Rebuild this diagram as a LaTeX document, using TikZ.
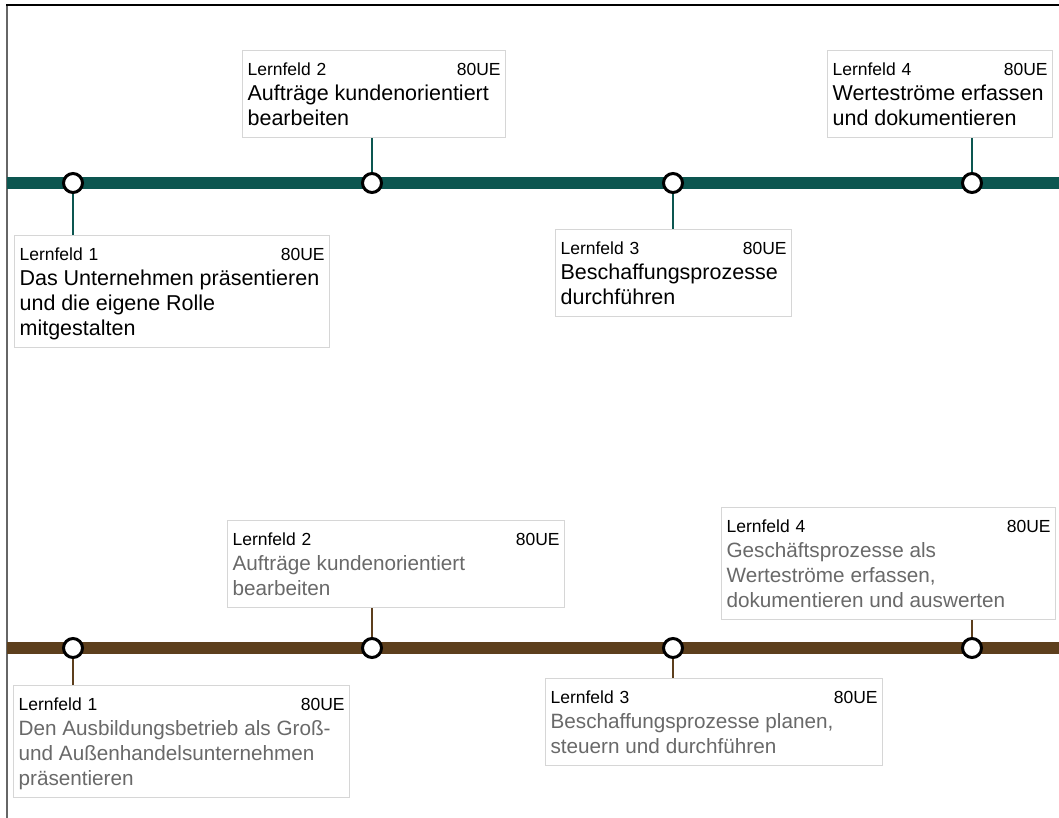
\documentclass[tikz,border=0pt]{standalone}
\usepackage{fontspec}
\setmainfont{Liberation Sans}
\definecolor{lfteal}{RGB}{12,86,80}
\definecolor{lfbrown}{RGB}{93,63,29}
\definecolor{boxgray}{RGB}{214,214,214}
\definecolor{titlegray}{RGB}{105,105,105}
\newcommand{\lfhead}[2]{\rule{0pt}{25pt}Lernfeld #1\hfill 80UE\hspace*{#2}\\}
\newcommand{\lfend}{\rule[-12pt]{0pt}{12pt}}
\newcommand{\topttl}{\fontsize{21.5}{25}\selectfont}
\newcommand{\botttl}{\fontsize{20.7}{25}\selectfont\color{titlegray}}

\begin{document}
\begin{tikzpicture}[x=1pt,y=-1pt,
    track/.style={line width=12pt},
    stop/.style={circle,draw=black,line width=3pt,fill=white,minimum size=19pt,inner sep=0pt},
    lfbox/.style={draw=boxgray,line width=1.2pt,fill=white,anchor=north west,
        inner xsep=5pt,inner ysep=0pt,align=left,font=\fontsize{17.5}{25}\selectfont},
    link/.style={line width=2pt}]
    \useasboundingbox[fill=white] (0,0) rectangle (1059,818);
    % frame
    \draw[gray!80!black,line width=1.8pt] (7,818) -- (7,5);
    \draw[black,line width=1.5pt] (6,5) -- (1059,5);
    % lines
    \coordinate (ts) at (7,183);
    \coordinate (te) at (1059,183);
    \coordinate (bs) at (7,648);
    \coordinate (be) at (1059,648);
    \draw[track,lfteal] (ts) -- (te);
    \draw[track,lfbrown] (bs) -- (be);
    \foreach \i/\x in {1/73,2/372,3/673,4/972}{
        \node[stop] (o\i) at (\x,183) {};
        \node[stop] (q\i) at (\x,648) {};
    }
    % upper line
    \node[lfbox,text width=305pt] (a1) at (14,235)
        {\lfhead{1}{9pt}\topttl Das Unternehmen präsentieren\\ und die eigene Rolle\\ mitgestalten\lfend};
    \node[lfbox,text width=253pt] (a2) at (242,50)
        {\lfhead{2}{8pt}\topttl Aufträge kundenorientiert\\ bearbeiten\lfend};
    \node[lfbox,text width=226pt] (a3) at (555,229)
        {\lfhead{3}{7pt}\topttl Beschaffungsprozesse\\ durchführen\lfend};
    \node[lfbox,text width=215pt] (a4) at (827,50)
        {\lfhead{4}{5pt}\topttl Werteströme erfassen\\ und dokumentieren\lfend};
    \draw[link,lfteal] (o1) -- (o1 |- a1.north);
    \draw[link,lfteal] (o2) -- (o2 |- a2.south);
    \draw[link,lfteal] (o3) -- (o3 |- a3.north);
    \draw[link,lfteal] (o4) -- (o4 |- a4.south);
    % lower line
    \node[lfbox,text width=326pt] (b1) at (13,685)
        {\lfhead{1}{8pt}\botttl Den Ausbildungsbetrieb als Groß-\\ und Außenhandelsunternehmen\\ präsentieren\lfend};
    \node[lfbox,text width=327pt] (b2) at (227,520)
        {\lfhead{2}{7pt}\botttl Aufträge kundenorientiert\\ bearbeiten\lfend};
    \node[lfbox,text width=327pt] (b3) at (545,678)
        {\lfhead{3}{14pt}\botttl Beschaffungsprozesse planen,\\ steuern und durchführen\lfend};
    \node[lfbox,text width=324pt] (b4) at (721,507)
        {\lfhead{4}{22pt}\botttl Geschäftsprozesse als\\ Werteströme erfassen,\\ dokumentieren und auswerten\lfend};
    \draw[link,lfbrown] (q1) -- (q1 |- b1.north);
    \draw[link,lfbrown] (q2) -- (q2 |- b2.south);
    \draw[link,lfbrown] (q3) -- (q3 |- b3.north);
    \draw[link,lfbrown] (q4) -- (q4 |- b4.south);
\end{tikzpicture}
\end{document}
